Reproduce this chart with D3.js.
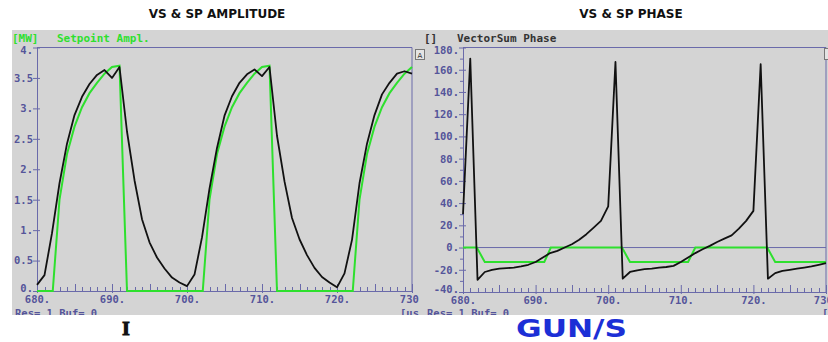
<!DOCTYPE html>
<html><head><meta charset="utf-8">
<script src="https://cdn.jsdelivr.net/npm/d3@7/dist/d3.min.js"></script>
<style>
html,body{margin:0;padding:0;background:#fff;}
svg{display:block;}
.mono{font-family:"DejaVu Sans Mono",monospace;font-weight:bold;}
</style></head>
<body>
<svg id="c" width="828" height="342"></svg>
<script>
// ---------- data ----------
const ampTitle = "VS & SP AMPLITUDE";
const phaseTitle = "VS & SP PHASE";
const ampUnit = "[MW]";
const ampLegend = "Setpoint Ampl.";
const phaseUnit = "[]";
const phaseLegend = "VectorSum Phase";
const statusText = "Res= 1.Buf= 0";
const xUnit = "[us]";
const leftCaption = "I";
const rightCaption = "GUN/S";

// time axis (us)
const xTicks = [680, 690, 700, 710, 720, 730];
const ampTicks = [0, 0.5, 1, 1.5, 2, 2.5, 3, 3.5, 4];
const phaseTicks = [-40, -20, 0, 20, 40, 60, 80, 100, 120, 140, 160, 180];

// Vector sum amplitude (MW), sampled every 1 us from 680 to 730
const vsTime = [680,681,682,683,684,685,686,687,688,689,690,691,692,693,694,695,696,697,698,699,
  700,701,702,703,704,705,706,707,708,709,710,711,712,713,714,715,716,717,718,719,
  720,721,722,723,724,725,726,727,728,729,730];
const vsAmp = [0.10,0.26,0.95,1.77,2.42,2.89,3.19,3.40,3.55,3.63,3.50,3.68,2.62,1.82,1.18,0.80,0.55,0.37,0.22,0.14,
  0.08,0.27,0.88,1.68,2.35,2.88,3.20,3.42,3.56,3.64,3.53,3.68,2.55,1.80,1.20,0.85,0.59,0.38,0.23,0.14,
  0.06,0.29,0.84,1.77,2.42,2.89,3.23,3.42,3.57,3.61,3.57];

// Setpoint amplitude (MW)
const spTime = [680,682.1,683,684,685,686,687,688,689,690,691,692,
  702.1,703,704,705,706,707,708,709,710,711,712,
  722.1,723,724,725,726,727,728,729,730];
const spAmp = [0,0,1.50,2.25,2.70,3.02,3.25,3.42,3.57,3.68,3.70,0,
  0,1.50,2.25,2.70,3.02,3.25,3.42,3.57,3.68,3.70,0,
  0,1.50,2.25,2.70,3.02,3.25,3.42,3.57,3.68];

// Vector sum phase (deg), sampled every 1 us
const vsPhase = [30,170,-29,-22,-20,-19,-18.5,-18,-17,-15.5,-13,-9,-5,-3,0,3,7,12,18,24,
  37,167,-28,-22,-20.5,-19.5,-19,-18,-17.5,-16.5,-13,-9,-5,-1.5,1.5,5,8,11,17,24,
  33,165,-28,-23,-21,-20,-19,-18,-17,-15.5,-14];

// Setpoint phase (deg)
const spPhTime = [680,681.9,683,691.2,692.1,701.9,703,711,712,721.9,723,730];
const spPhase = [0,0,-13,-13,0,0,-13,-13,0,0,-13,-13];

// ---------- drawing ----------
const svg = d3.select("#c");
const grey = "#d4d4d4", axisCol = "#6a6aaa", labCol = "#55559a", green = "#2ee02e";

svg.append("rect").attr("x",12).attr("y",30).attr("width",816).attr("height",285).attr("fill",grey);

const defs = svg.append("defs");
defs.append("clipPath").attr("id","clipL").append("rect").attr("x",0).attr("y",30).attr("width",419).attr("height",285);
defs.append("clipPath").attr("id","clipR").append("rect").attr("x",419).attr("y",30).attr("width",409).attr("height",285);

// titles
svg.append("text").attr("x",217).attr("y",18).attr("text-anchor","middle")
  .style("font-family","DejaVu Sans").style("font-weight","bold").style("font-size","12px").attr("fill","#111").text(ampTitle);
svg.append("text").attr("x",631).attr("y",18).attr("text-anchor","middle")
  .style("font-family","DejaVu Sans").style("font-weight","bold").style("font-size","12px").attr("fill","#111").text(phaseTitle);

function panel(opt){
  const g = svg.append("g").attr("clip-path", `url(#${opt.clip})`);
  const x = d3.scaleLinear().domain([680,730]).range(opt.xr);
  const y = d3.scaleLinear().domain(opt.yd).range([opt.y0, 47.5]);
  const [x0,x1] = opt.xr;
  // header
  g.append("text").attr("class","mono").attr("x",opt.unitX).attr("y",42).attr("fill",opt.headCol)
    .style("font-size","11px").text(opt.unit);
  g.append("text").attr("class","mono").attr("x",opt.legX).attr("y",42).attr("fill",opt.headCol)
    .style("font-size","11px").text(opt.legend);
  // frame
  g.append("path").attr("d",`M${x0},${y.range()[1]}H${x1}V${opt.y0}`).attr("fill","none").attr("stroke",axisCol).attr("stroke-width",1);
  if (opt.zeroLine) {
    g.append("line").attr("x1",x0).attr("x2",x1).attr("y1",y(0)).attr("y2",y(0)).attr("stroke",axisCol).attr("stroke-width",1);
  }
  // y axis
  const ya = g.append("g").attr("transform",`translate(${x0},0)`)
    .call(d3.axisLeft(y).tickValues(opt.yTicks).tickSize(4).tickSizeOuter(0).tickPadding(0)
      .tickFormat(opt.fmt));
  ya.select(".domain").attr("stroke",axisCol);
  ya.selectAll(".tick line").attr("stroke",axisCol).attr("x1",3);
  ya.selectAll(".tick text").attr("class","mono").attr("fill",labCol).style("font-size","10.5px")
    .attr("dy",d=>d===opt.yd[1]?"0.55em":(d===opt.yd[0]?"0.05em":"0.32em"));
  if (opt.yMinor) {
    g.append("g").attr("transform",`translate(${x0},0)`)
      .call(d3.axisLeft(y).tickValues(opt.yMinor).tickSize(3).tickFormat(""))
      .call(s=>{s.select(".domain").remove(); s.selectAll("line").attr("stroke",axisCol);});
  }
  // x axis minor/mid ticks
  const minor = d3.range(681,730).filter(v=>v%10!==0);
  g.append("g").attr("transform",`translate(0,${opt.y0})`).attr("shape-rendering","crispEdges")
    .call(d3.axisBottom(x).tickValues(minor).tickSize(-4).tickFormat(""))
    .call(s=>{s.select(".domain").remove(); s.selectAll(".tick line").attr("stroke",axisCol)
      .attr("y2",d=>d%5===0?-7:-4);});
  const xa = g.append("g").attr("transform",`translate(0,${opt.y0})`)
    .call(d3.axisBottom(x).tickValues(xTicks).tickSize(-7).tickSizeOuter(0).tickPadding(5).tickFormat(d=>d+"."));
  xa.select(".domain").attr("stroke",axisCol);
  xa.selectAll(".tick line").attr("stroke",axisCol).attr("y1",2);
  xa.selectAll(".tick text").attr("class","mono").attr("fill",labCol).style("font-size","10.5px");
  // status
  g.append("text").attr("class","mono").attr("x",opt.resX).attr("y",317).attr("fill",labCol).style("font-size","10.5px").text(statusText);
  g.append("text").attr("class","mono").attr("x",opt.usX).attr("y",317).attr("fill",labCol).style("font-size","10.5px").text(xUnit);
  // data
  const line = d3.line().x(d=>x(d[0])).y(d=>y(d[1]));
  g.append("path").datum(d3.zip(opt.spT, opt.spV)).attr("d",line).attr("fill","none").attr("stroke",green).attr("stroke-width",2);
  g.append("path").datum(d3.zip(vsTime, opt.vsV)).attr("d",line).attr("fill","none").attr("stroke","#111").attr("stroke-width",1.8).attr("stroke-linejoin","round");
  return {x,y};
}

panel({clip:"clipL", xr:[37,412], yd:[0,4], y0:291, yTicks:ampTicks,
  fmt:d=>Number.isInteger(d)?d+".":String(d), unit:ampUnit, legend:ampLegend, unitX:12, legX:57,
  headCol:green, resX:15, usX:400, spT:spTime, spV:spAmp, vsV:vsAmp});

panel({clip:"clipR", xr:[463,826], yd:[-40,180], y0:292, yTicks:phaseTicks,
  yMinor:d3.range(-30,180,20), zeroLine:true,
  fmt:d=>d+".", unit:phaseUnit, legend:phaseLegend, unitX:424, legX:457,
  headCol:"#333", resX:427, usX:822, spT:spPhTime, spV:spPhase, vsV:vsPhase});

// small buttons
const btn = svg.append("g");
btn.append("rect").attr("x",415.5).attr("y",49.5).attr("width",9).attr("height",10).attr("fill","#e4e4e4").attr("stroke","#777");
btn.append("text").attr("x",420).attr("y",57.5).attr("text-anchor","middle").style("font-family","DejaVu Sans").style("font-size","7px").attr("fill","#333").text("A");
btn.append("rect").attr("x",824.5).attr("y",48.5).attr("width",8).attr("height",11).attr("fill","#e4e4e4").attr("stroke","#777");

// captions
svg.append("text").attr("x",126).attr("y",335).attr("text-anchor","middle")
  .style("font-family","Liberation Serif").style("font-weight","bold").style("font-size","19px")
  .attr("fill","#111").attr("stroke","#111").attr("stroke-width",1.2).text(leftCaption);
svg.append("text").attr("x",516).attr("y",337).attr("textLength",111).attr("lengthAdjust","spacingAndGlyphs")
  .style("font-family","DejaVu Sans").style("font-weight","bold").style("font-size","24px").attr("fill","#1c2fd6").text(rightCaption);
</script>
</body></html>
